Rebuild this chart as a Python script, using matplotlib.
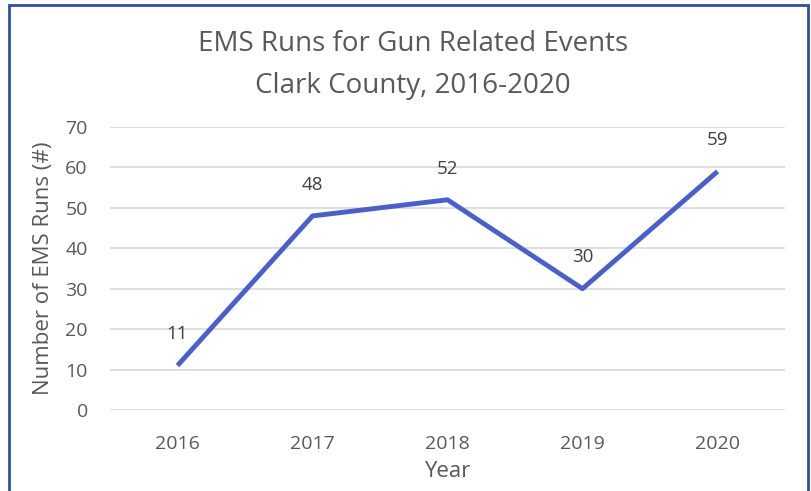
import matplotlib.pyplot as plt
from matplotlib.patches import Rectangle

# data
years = ['2016', '2017', '2018', '2019', '2020']
runs = [11, 48, 52, 30, 59]

plt.rcParams['font.family'] = ['Open Sans', 'DejaVu Sans']
text_color = '#595959'
line_color = '#4a5fcf'

fig = plt.figure(figsize=(8.12, 4.91), dpi=100)
ax = fig.add_axes([110 / 812, 1 - 410 / 491, 675 / 812, 283 / 491])

x = range(len(years))
ax.plot(x, runs, color=line_color, linewidth=3.5, solid_capstyle='butt')
for xi, v in zip(x, runs):
    ax.annotate(str(v), (xi, v), xytext=(0, 22.5), textcoords='offset points',
                ha='center', va='center', fontsize=13.5, color='#404040')

ax.set_xlim(-0.5, len(years) - 0.5)
ax.set_ylim(0, 70)
ax.set_yticks(range(0, 71, 10))
ax.set_xticks(list(x))
ax.set_xticklabels(years)
ax.grid(axis='y', color='#d9d9d9', linewidth=1.2)
ax.set_axisbelow(True)
for s in ax.spines.values():
    s.set_visible(False)
ax.tick_params(length=0, labelsize=14, labelcolor=text_color, pad=16)
ax.tick_params(axis='x', pad=18)

ax.set_xlabel('Year', fontsize=16, color=text_color, labelpad=6)
ax.set_ylabel('Number of EMS Runs (#)', fontsize=16, color=text_color, labelpad=8)

fig.text(0.5087, 1 - 65 / 491, 'EMS Runs for Gun Related Events\nClark County, 2016-2020',
         ha='center', va='center', fontsize=20, color=text_color, linespacing=1.65)

# outer border
fig.patches.append(Rectangle((9.5 / 812, -0.05), 799 / 812, 1.05 - 5.5 / 491,
                             transform=fig.transFigure, fill=False,
                             edgecolor='#2f4ea8', linewidth=2))

fig.savefig('out.png', dpi=100)
